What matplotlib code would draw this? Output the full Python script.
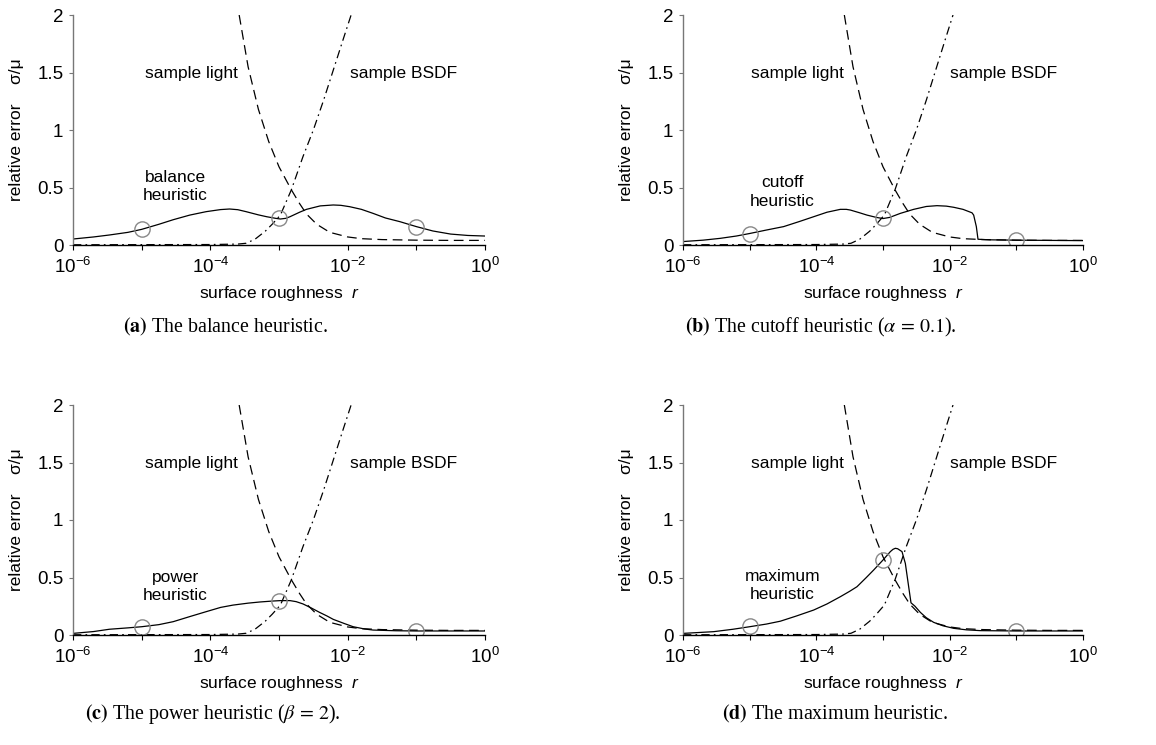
import numpy as np
import matplotlib
matplotlib.use("Agg")
import matplotlib.pyplot as plt

plt.rcParams['font.family'] = ['Liberation Sans', 'DejaVu Sans']
plt.rcParams['mathtext.fontset'] = 'custom'
plt.rcParams['mathtext.rm'] = 'Liberation Sans'
plt.rcParams['mathtext.it'] = 'Liberation Sans:italic'
plt.rcParams['mathtext.bf'] = 'Liberation Sans:bold'
plt.rcParams['lines.scale_dashes'] = False

# ---- data (log10 of roughness r, relative error) ----
light_logr = [-3.58, -3.45, -3.3, -3.15, -3.0, -2.82, -2.7, -2.6, -2.45, -2.26, -2.0, -1.8, -1.5, -1.0, -0.5, 0.0]
light_err = [2.0, 1.55, 1.18, 0.90, 0.68, 0.48, 0.36, 0.27, 0.18, 0.11, 0.07, 0.055, 0.047, 0.042, 0.04, 0.04]

bsdf_logr = [-6.0, -5.0, -4.0, -3.6, -3.48, -3.35, -3.2, -3.1, -2.98, -2.82, -2.65, -2.5, -2.35, -2.21, -2.07, -1.95]
bsdf_err = [0.002, 0.003, 0.004, 0.008, 0.015, 0.05, 0.12, 0.18, 0.26, 0.48, 0.77, 1.0, 1.26, 1.52, 1.78, 2.0]

balance_logr = [-6, -5.7, -5.47, -5.2, -5, -4.75, -4.54, -4.3, -4.06, -3.85, -3.72, -3.6, -3.48, -3.3, -3.18,
                -3.05, -2.98, -2.9, -2.84, -2.7, -2.6, -2.4, -2.21, -2.1, -1.97, -1.8, -1.63, -1.45, -1.24,
                -1.0, -0.76, -0.5, -0.25, 0]
balance_err = [0.052, 0.07, 0.087, 0.11, 0.136, 0.18, 0.22, 0.26, 0.29, 0.308, 0.313, 0.307, 0.29, 0.262, 0.246,
               0.232, 0.226, 0.232, 0.246, 0.285, 0.31, 0.34, 0.348, 0.345, 0.333, 0.31, 0.275, 0.235, 0.203,
               0.16, 0.122, 0.095, 0.083, 0.078]

cutoff_logr = [-6, -5.7, -5.44, -5.2, -5, -4.75, -4.49, -4.25, -4.04, -3.84, -3.64, -3.55, -3.49, -3.35, -3.24,
               -3.1, -3, -2.9, -2.74, -2.54, -2.35, -2.19, -2.05, -1.94, -1.8, -1.665, -1.64, -1.6, -1.575,
               -1.4, -1.0, 0]
cutoff_err = [0.03, 0.042, 0.058, 0.078, 0.10, 0.13, 0.16, 0.205, 0.246, 0.285, 0.31, 0.31, 0.304, 0.28, 0.26,
              0.24, 0.23, 0.24, 0.275, 0.31, 0.335, 0.342, 0.338, 0.328, 0.31, 0.28, 0.26, 0.16, 0.05,
              0.045, 0.042, 0.038]

power_logr = [-6, -5.7, -5.47, -5.2, -5, -4.75, -4.54, -4.3, -4.06, -3.85, -3.67, -3.45, -3.28, -3.1, -2.98,
              -2.84, -2.75, -2.65, -2.53, -2.41, -2.3, -2.21, -2.05, -1.92, -1.75, -1.63, -1.3, -1.0, 0]
power_err = [0.014, 0.03, 0.05, 0.062, 0.072, 0.09, 0.116, 0.16, 0.203, 0.24, 0.26, 0.277, 0.287, 0.295, 0.299,
             0.299, 0.29, 0.27, 0.235, 0.197, 0.165, 0.136, 0.1, 0.072, 0.052, 0.043, 0.037, 0.035, 0.035]

maximum_logr = [-6, -5.54, -5.25, -5, -4.75, -4.54, -4.3, -4.04, -3.84, -3.64, -3.5, -3.39, -3.25, -3.14, -3.0,
                -2.89, -2.85, -2.815, -2.78, -2.715, -2.665, -2.615, -2.58, -2.52, -2.44, -2.35, -2.24, -2.1,
                -1.94, -1.75, -1.54, -1.0, 0]
maximum_err = [0.014, 0.029, 0.05, 0.072, 0.095, 0.12, 0.165, 0.217, 0.27, 0.333, 0.38, 0.42, 0.5, 0.565, 0.652,
               0.725, 0.745, 0.754, 0.75, 0.725, 0.623, 0.42, 0.28, 0.25, 0.197, 0.15, 0.11, 0.08,
               0.058, 0.045, 0.038, 0.035, 0.035]

circle_r = [1e-5, 1e-3, 1e-1]
circle_err = {
    'a': [0.14, 0.235, 0.16],
    'b': [0.10, 0.235, 0.04],
    'c': [0.07, 0.30, 0.035],
    'd': [0.075, 0.655, 0.035],
}

heuristic_labels = {'a': 'balance\nheuristic', 'b': 'cutoff\nheuristic',
                    'c': 'power\nheuristic', 'd': 'maximum\nheuristic'}
heuristic_label_y = {'a': 0.51, 'b': 0.46, 'c': 0.42, 'd': 0.43}

captions = {
    'a': r"$\mathbf{(a)}$ The balance heuristic.",
    'b': r"$\mathbf{(b)}$ The cutoff heuristic ($\alpha\,=\,0.1$).",
    'c': r"$\mathbf{(c)}$ The power heuristic ($\beta\,=\,2$).",
    'd': r"$\mathbf{(d)}$ The maximum heuristic.",
}

xtick_vals = [1e-6, 1e-5, 1e-4, 1e-3, 1e-2, 1e-1, 1e0]
xtick_labels = [r'$\mathregular{10^{-6}}$', '', r'$\mathregular{10^{-4}}$', '',
                r'$\mathregular{10^{-2}}$', '', r'$\mathregular{10^{0}}$']
ytick_vals = [0, 0.5, 1, 1.5, 2]
ytick_labels = ['0', '0.5', '1', '1.5', '2']

solids = {'a': (balance_logr, balance_err), 'b': (cutoff_logr, cutoff_err),
          'c': (power_logr, power_err), 'd': (maximum_logr, maximum_err)}

W, H = 1156, 745
fig = plt.figure(figsize=(W / 100, H / 100), dpi=100)

# axes boxes in pixels: left, top, right, bottom
boxes = {'a': (73, 15, 485, 245), 'b': (683, 15, 1083, 245),
         'c': (73, 405, 485, 635), 'd': (683, 405, 1083, 635)}
caption_pos = {'a': (123, 327), 'b': (685, 327), 'c': (85, 714), 'd': (722, 714)}

FS = 12.5
for key in ['a', 'b', 'c', 'd']:
    l, t, r, b = boxes[key]
    ax = fig.add_axes([l / W, 1 - b / H, (r - l) / W, (b - t) / H])
    ax.set_xscale('log')
    ax.set_xlim(1e-6, 1)
    ax.set_ylim(0, 2)

    ax.plot(10 ** np.array(light_logr), light_err, color='black', lw=0.9, ls=(0, (7, 4)))
    ax.plot(10 ** np.array(bsdf_logr), bsdf_err, color='black', lw=0.9, ls=(0, (6, 3, 1.2, 3)))
    sl, se = solids[key]
    ax.plot(10 ** np.array(sl), se, color='black', lw=0.9)
    ax.plot(circle_r, circle_err[key], ls='none', marker='o', ms=11, mfc='none',
            mec='#888888', mew=1.0)

    ax.text(10 ** -4.28, 1.49, 'sample light', ha='center', va='center', fontsize=FS)
    ax.text(10 ** -1.19, 1.49, 'sample BSDF', ha='center', va='center', fontsize=FS)
    ax.text(10 ** -4.51, heuristic_label_y[key], heuristic_labels[key], ha='center', va='center',
            fontsize=FS, linespacing=1.3)

    for s in ['top', 'right']:
        ax.spines[s].set_visible(False)
    ax.spines['left'].set_color('#777777')
    ax.spines['left'].set_linewidth(1.0)
    ax.spines['bottom'].set_color('black')
    ax.spines['bottom'].set_linewidth(1.0)
    ax.xaxis.set_minor_locator(matplotlib.ticker.NullLocator())
    ax.set_xticks(xtick_vals)
    ax.set_xticklabels(xtick_labels, fontsize=FS + 1)
    ax.set_yticks(ytick_vals)
    ax.set_yticklabels(ytick_labels, fontsize=FS + 1)
    ax.tick_params(axis='x', direction='out', length=3.5, width=0.8, pad=5)
    ax.tick_params(axis='y', direction='out', length=3, width=0.8, pad=4, color='#777777')

    ax.text(0.5, -0.209, r'surface roughness  $\mathit{r}$', transform=ax.transAxes,
            ha='center', va='center', fontsize=FS)
    ax.text(-0.136 * 412 / (r - l), 0.5, 'relative error    σ/μ', transform=ax.transAxes,
            rotation=90, ha='center', va='center', fontsize=FS)

    cx, cy = caption_pos[key]
    fig.text(cx / W, 1 - cy / H, captions[key], ha='left', va='center', fontsize=14.4,
             family='Liberation Serif', math_fontfamily='stix')

fig.savefig('out.png', dpi=100)
